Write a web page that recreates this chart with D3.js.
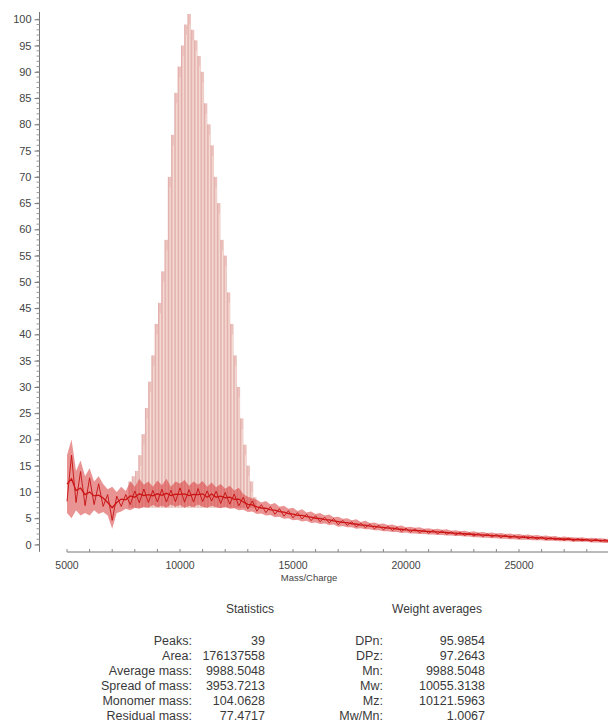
<!DOCTYPE html>
<html>
<head>
<meta charset="utf-8">
<script src="https://cdn.jsdelivr.net/npm/d3@7"></script>
<style>
  body { margin: 0; background: #fff; }
  svg { display: block; font-family: "Liberation Sans", Arial, sans-serif; }
</style>
</head>
<body>
<svg id="chart" width="608" height="722"></svg>
<script>
// -- oligomer peak series (m/z, relative intensity) -- //
const peakMz = [7800, 7945, 8090, 8235, 8380, 8525, 8670, 8815, 8960, 9105,
  9250, 9395, 9540, 9685, 9830, 9975, 10120, 10265, 10410, 10555,
  10700, 10845, 10990, 11135, 11280, 11425, 11570, 11715, 11860, 12005,
  12150, 12295, 12440, 12585, 12730, 12875, 13020, 13165, 13310];
const peakInt = [12, 13, 14, 17, 21, 26, 31, 36, 42, 46,
  52, 58, 70, 78, 86, 91, 95, 99, 101, 98,
  96, 93, 90, 84, 80, 76, 70, 65, 58, 55,
  48, 42, 36, 30, 24, 19, 15, 12, 9];

// -- noisy baseline, min / max per m/z bin -- //
const baseMz = [5000, 5200, 5400, 5600, 5800, 6000, 6200, 6400, 6600, 6800,
  7000, 7200, 7400, 7600, 7800, 8000, 8200, 8400, 8600, 8800,
  9000, 9200, 9400, 9600, 9800, 10000, 10200, 10400, 10600, 10800,
  11000, 11200, 11400, 11600, 11800, 12000, 12200, 12400, 12600, 12800,
  13000, 13200, 13400, 13600, 13800, 14000, 14200, 14400, 14600, 14800,
  15000, 15200, 15400, 15600, 15800, 16000, 16200, 16400, 16600, 16800,
  17000, 17200, 17400, 17600, 17800, 18000, 18200, 18400, 18600, 18800,
  19000, 19200, 19400, 19600, 19800, 20000, 20200, 20400, 20600, 20800,
  21000, 21200, 21400, 21600, 21800, 22000, 22200, 22400, 22600, 22800,
  23000, 23200, 23400, 23600, 23800, 24000, 24200, 24400, 24600, 24800,
  25000, 25200, 25400, 25600, 25800, 26000, 26200, 26400, 26600, 26800,
  27000, 27200, 27400, 27600, 27800, 28000, 28200, 28400, 28600, 28800, 29000];
const baseLo = [6, 5, 6.5, 5.5, 6, 5.5, 6.5, 5.8, 6.2, 5.5,
  3, 6, 6.3, 6.8, 6.5, 7, 6.8, 7.2, 7, 7.5,
  7.1, 7.4, 7, 7.6, 7.2, 7.5, 7, 7.4, 7.1, 7.6,
  7.2, 7, 7.4, 7.1, 6.9, 7.2, 6.8, 6.9, 6.5, 6.6,
  6.2, 6.3, 5.8, 5.9, 5.5, 5.6, 5.2, 5.3, 4.9, 5.0,
  4.6, 4.7, 4.4, 4.5, 4.1, 4.2, 3.9, 4.0, 3.7, 3.8,
  3.4, 3.5, 3.3, 3.3, 3.0, 3.1, 2.9, 2.9, 2.7, 2.7,
  2.5, 2.5, 2.4, 2.4, 2.2, 2.3, 2.1, 2.1, 2.0, 2.0,
  1.9, 1.9, 1.8, 1.8, 1.7, 1.7, 1.6, 1.6, 1.5, 1.5,
  1.4, 1.4, 1.3, 1.3, 1.2, 1.2, 1.1, 1.1, 1.0, 1.0,
  0.9, 0.9, 0.9, 0.8, 0.8, 0.8, 0.7, 0.7, 0.7, 0.6,
  0.6, 0.6, 0.5, 0.5, 0.5, 0.5, 0.4, 0.4, 0.4, 0.3, 0.3];
const baseHi = [17, 20, 14, 16, 13, 14.5, 12, 13, 11.5, 10.5,
  11, 10, 11, 10.2, 12, 11, 12.5, 11.4, 12, 11,
  12.2, 11.3, 12.5, 11, 12, 11.6, 12.3, 11.2, 12, 11.4,
  12.1, 11, 11.8, 10.9, 11.5, 10.6, 11.2, 10.3, 10.8, 9.6,
  9.1, 8.8, 8.5, 8.0, 8.3, 7.6, 7.9, 7.2, 7.4, 6.8,
  7.0, 6.4, 6.7, 6.1, 6.3, 5.8, 6.0, 5.5, 5.7, 5.2,
  5.3, 4.9, 5.0, 4.6, 4.8, 4.3, 4.5, 4.1, 4.2, 3.9,
  4.0, 3.7, 3.8, 3.5, 3.6, 3.3, 3.4, 3.2, 3.3, 3.0,
  3.1, 2.9, 3.0, 2.8, 2.9, 2.6, 2.7, 2.5, 2.6, 2.4,
  2.5, 2.3, 2.4, 2.2, 2.3, 2.1, 2.2, 2.0, 2.1, 1.9,
  2.0, 1.8, 1.9, 1.7, 1.8, 1.6, 1.7, 1.5, 1.6, 1.4,
  1.5, 1.4, 1.4, 1.3, 1.4, 1.2, 1.3, 1.2, 1.2, 1.1, 1.1];

// -- axis ticks -- //
const xTickLabels = [5000, 10000, 15000, 20000, 25000];
const yTickLabels = [0, 5, 10, 15, 20, 25, 30, 35, 40, 45, 50, 55, 60, 65, 70, 75, 80, 85, 90, 95, 100];

// -- statistics tables -- //
const statLabels = ["Peaks:", "Area:", "Average mass:", "Spread of mass:", "Monomer mass:", "Residual mass:"];
const statValues = ["39", "176137558", "9988.5048", "3953.7213", "104.0628", "77.4717"];
const avgLabels = ["DPn:", "DPz:", "Mn:", "Mw:", "Mz:", "Mw/Mn:"];
const avgValues = ["95.9854", "97.2643", "9988.5048", "10055.3138", "10121.5963", "1.0067"];

const svg = d3.select("#chart");
svg.append("rect").attr("width", 608).attr("height", 722).attr("fill", "#fff");

let xScale = d3.scaleLinear().domain([5000, 29000]).range([67, 609.4]);
let yScale = d3.scaleLinear().domain([0, 100]).range([544.5, 19.3]);

// -- pink peak bars -- //
const peaks = peakMz.map((m, i) => ({ mz: m, v: peakInt[i] }));
let peakLayer = svg.append("g");
peakLayer.selectAll(".peak")
  .data(peaks)
  .enter()
  .append("rect")
  .attr("class", "peak")
  .attr("x", d => xScale(d.mz - 75))
  .attr("width", xScale(5150) - xScale(5000))
  .attr("y", d => yScale(d.v))
  .attr("height", d => yScale(7) - yScale(d.v))
  .style("fill", "#ecc2be");
peakLayer.selectAll(".peakEdge")
  .data(peaks)
  .enter()
  .append("line")
  .attr("x1", d => xScale(d.mz - 55)).attr("x2", d => xScale(d.mz - 55))
  .attr("y1", d => yScale(d.v)).attr("y2", d => yScale(7))
  .style("stroke", "#dca6a4").style("stroke-width", 0.7);
peakLayer.selectAll(".peakHi")
  .data(peaks)
  .enter()
  .append("line")
  .attr("x1", d => xScale(d.mz + 25)).attr("x2", d => xScale(d.mz + 25))
  .attr("y1", d => yScale(d.v - 2)).attr("y2", d => yScale(7))
  .style("stroke", "#f8e6dc").style("stroke-width", 0.8);

// -- red baseline noise: filled band + jagged trace -- //
const base = baseMz.map((m, i) => ({ mz: m, lo: baseLo[i], hi: baseHi[i] }));
svg.append("path")
  .datum(base)
  .attr("d", d3.area().x(d => xScale(d.mz)).y0(d => yScale(d.lo)).y1(d => yScale(d.hi)))
  .style("fill", "#d83a3a").style("opacity", 0.55);
svg.append("path")
  .datum(base)
  .attr("d", d3.line().x(d => xScale(d.mz)).y((d, i) => yScale(i % 2 ? d.hi - (d.hi - d.lo) * 0.2 : d.lo + (d.hi - d.lo) * 0.2)))
  .style("fill", "none").style("stroke", "#c41010").style("stroke-width", 0.9);
svg.append("path")
  .datum(base)
  .attr("d", d3.line().x(d => xScale(d.mz)).y(d => yScale((d.lo + d.hi) / 2)))
  .style("fill", "none").style("stroke", "#cc1414").style("stroke-width", 1.3);

// -- y axis -- //
let yAxisG = svg.append("g").attr("transform", "translate(39.5,0)");
yAxisG.append("line").attr("y1", yScale(101.4)).attr("y2", yScale(-1.4))
  .style("stroke", "#777").style("stroke-width", 1);
yAxisG.call(g => g.selectAll(".minor").data(yScale.ticks(100)).enter().append("line")
  .attr("x1", -3).attr("x2", 0).attr("y1", d => yScale(d)).attr("y2", d => yScale(d))
  .style("stroke", "#999"));
yAxisG.call(d3.axisLeft(yScale).tickValues(yTickLabels).tickSize(5).tickPadding(3))
  .call(g => g.select(".domain").remove())
  .call(g => g.selectAll(".tick line").style("stroke", "#777"))
  .call(g => g.selectAll("text").style("font-size", "11px").style("fill", "#444")
    .style("font-family", "'Liberation Sans', Arial, sans-serif"));

// -- x axis -- //
let xAxisG = svg.append("g").attr("transform", "translate(0,552)");
xAxisG.append("line").attr("x1", xScale(5000)).attr("x2", 608)
  .style("stroke", "#777");
xAxisG.selectAll(".minor").data(xScale.ticks(24)).enter().append("line")
  .attr("x1", d => xScale(d)).attr("x2", d => xScale(d)).attr("y1", 0).attr("y2", -3)
  .style("stroke", "#888");
xAxisG.selectAll(".xlab").data(xTickLabels).enter().append("text")
  .attr("x", d => xScale(d)).attr("y", 17)
  .attr("text-anchor", "middle")
  .style("font-size", "10.5px").style("fill", "#444")
  .text(d => d);
svg.append("text").attr("x", 309).attr("y", 581).attr("text-anchor", "middle")
  .style("font-size", "9.5px").style("fill", "#444").text("Mass/Charge");

// -- statistics block -- //
let drawTable = (title, titleX, labels, values, labelX, valueX) => {
  svg.append("text").attr("x", titleX).attr("y", 613).attr("text-anchor", "middle")
    .style("font-size", "12px").style("fill", "#3a3a3a").text(title);
  svg.selectAll(null).data(labels).enter().append("text")
    .attr("x", labelX).attr("y", (d, i) => 644.5 + i * 15)
    .attr("text-anchor", "end").style("font-size", "12.5px").style("fill", "#3a3a3a")
    .text(d => d);
  svg.selectAll(null).data(values).enter().append("text")
    .attr("x", valueX).attr("y", (d, i) => 644.5 + i * 15)
    .attr("text-anchor", "end").style("font-size", "12.5px").style("fill", "#3a3a3a")
    .text(d => d);
};
drawTable("Statistics", 250, statLabels, statValues, 192, 265);
drawTable("Weight averages", 437, avgLabels, avgValues, 383, 485);
</script>
</body>
</html>
